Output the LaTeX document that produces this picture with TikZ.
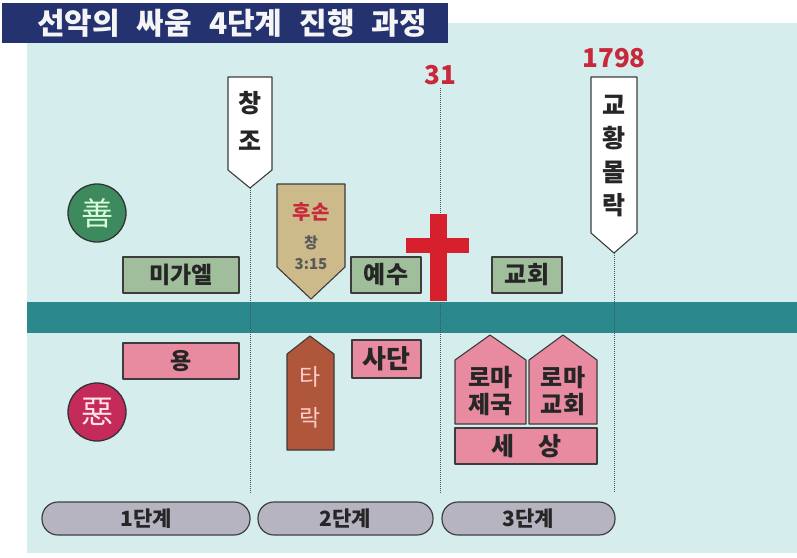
\documentclass[tikz,border=0pt]{standalone}
\usepackage{fontspec}
\newfontfamily\kr{Noto Sans CJK KR}
\definecolor{panel}{RGB}{214,237,237}
\definecolor{band}{RGB}{43,137,140}
\definecolor{titlebg}{RGB}{36,50,112}
\definecolor{gbox}{RGB}{160,190,155}
\definecolor{pbox}{RGB}{232,138,160}
\definecolor{brown}{RGB}{176,86,58}
\definecolor{tan}{RGB}{205,186,138}
\definecolor{goodc}{RGB}{60,138,94}
\definecolor{evilc}{RGB}{196,42,90}
\definecolor{pill}{RGB}{182,180,192}
\definecolor{redt}{RGB}{200,40,58}
\definecolor{crossred}{RGB}{214,32,46}
\definecolor{edge}{RGB}{60,60,60}
\definecolor{vl}{RGB}{70,80,100}
\tikzset{
  fs/.style={font=\kr\fontsize{#1}{#1}\selectfont},
  fsb/.style={font=\kr\bfseries\fontsize{#1}{#1}\selectfont},
  shapeedge/.style={draw=edge, line width=1.1pt, line join=round},
  vline/.style={draw=vl, line width=1pt, densely dotted},
  txt/.style={text=black!85, inner sep=0pt},
}
\begin{document}
\begin{tikzpicture}[x=1pt,y=-1pt]
\useasboundingbox (0,0) rectangle (797,557);
\fill[white] (0,0) rectangle (797,557);
\fill[panel] (27,23) rectangle (797,553);
\fill[band] (27,302) rectangle (797,333);

% title
\fill[titlebg] (2,3) rectangle (448,43);
\node[fsb=30, text=white!92!gray, inner sep=0pt] (title) at (232,23) {선악의\hspace{17pt}싸움\hspace{17pt}4단계\hspace{17pt}진행\hspace{17pt}과정};

% timeline markers
\coordinate (c1top) at (250,188);
\coordinate (c1bot) at (250,493);
\coordinate (c2top) at (440,88);
\coordinate (c2bot) at (440,493);
\coordinate (c3top) at (614,253);
\coordinate (c3bot) at (614,493);
\draw[vline] (c1top) -- (c1bot);
\draw[vline] (c2top) -- (c2bot);
\draw[vline] (c3top) -- (c3bot);

\node[fsb=26, text=redt, inner sep=0pt] (y31) at (440,75) {31};
\node[fsb=26, text=redt, inner sep=0pt] (y1798) at (614,58) {1798};

% creation pennant
\filldraw[fill=white, shapeedge] (228,77) -- (272,77) -- (272,170) -- (c1top) -- (228,170) -- cycle;
\node[fsb=25, txt] (chang) at (250,103) {창};
\node[fsb=25, txt] (jo) at (250,141) {조};

% papacy fall pennant
\filldraw[fill=white, shapeedge] (591,77) -- (637,77) -- (637,233) -- (c3top) -- (591,233) -- cycle;
\node[fsb=25, txt] (gyo) at (614,105) {교};
\node[fsb=25, txt] (hwang) at (614,138) {황};
\node[fsb=25, txt] (mol) at (614,172) {몰};
\node[fsb=25, txt] (rak) at (614,205) {락};

% offspring pennant
\filldraw[fill=tan, shapeedge] (277,184) -- (345,184) -- (345,267) -- (311,299) -- (277,267) -- cycle;
\node[fsb=20, text=redt, inner sep=0pt] (huson) at (311,212) {후손};
\node[fsb=15, text=black!65, inner sep=0pt] (gen) at (311,243) {창};
\node[fsb=15, text=black!65, inner sep=0pt] (genv) at (311,264) {3:15};

% cross
\fill[crossred] (430,214) rectangle (447,301);
\fill[crossred] (406,238) rectangle (469,253);

% good side
\filldraw[fill=goodc, draw=black!80, line width=1.3pt] (97,213) circle (29);
\node[fs=32, text=green!15!white, inner sep=0pt] (good) at (97,213) {善};
\filldraw[fill=gbox, shapeedge] (123,257) rectangle (239,293);
\node[fsb=23, txt] (michael) at (181,275) {미가엘};
\filldraw[fill=gbox, shapeedge] (351,257) rectangle (421,293);
\node[fsb=24, txt] (jesus) at (386,275) {예수};
\filldraw[fill=gbox, shapeedge] (492,257) rectangle (562,293);
\node[fsb=24, txt] (church) at (527,275) {교회};

% evil side
\filldraw[fill=evilc, draw=black!80, line width=1.3pt] (97,412) circle (29);
\node[fs=32, text=pink!40!white, inner sep=0pt] (evil) at (97,412) {惡};
\filldraw[fill=pbox, shapeedge] (123,343) rectangle (239,379);
\node[fsb=23, txt] (dragon) at (181,361) {용};
\filldraw[fill=pbox, shapeedge] (352,340) rectangle (421,378);
\node[fsb=26, txt] (satan) at (386.5,359) {사단};

% fall arrow
\filldraw[fill=brown, shapeedge] (310,336) -- (334,354) -- (334,450) -- (287,450) -- (287,354) -- cycle;
\node[fs=23, text=red!20!white, inner sep=0pt] (ta) at (310.5,377) {타};
\node[fs=23, text=red!20!white, inner sep=0pt] (rak2) at (310.5,418) {락};

% rome houses
\filldraw[fill=pbox, shapeedge] (455,360) -- (490,335) -- (526,360) -- (526,424) -- (455,424) -- cycle;
\node[fsb=24, txt] (roma1) at (490.5,378) {로마};
\node[fsb=24, txt] (empire) at (490.5,405) {제국};
\filldraw[fill=pbox, shapeedge] (529,360) -- (563,335) -- (597,360) -- (597,424) -- (529,424) -- cycle;
\node[fsb=24, txt] (roma2) at (563,378) {로마};
\node[fsb=24, txt] (rchurch) at (563,405) {교회};
\filldraw[fill=pbox, shapeedge] (455,428) rectangle (597,464);
\node[fsb=25, txt] (se) at (503,446) {세};
\node[fsb=25, txt] (sang) at (550,446) {상};

% stage pills
\tikzset{pillbox/.style={fill=pill, draw=black!75, line width=1.2pt, rounded corners=16pt}}
\filldraw[pillbox] (42,502) rectangle (250,535);
\filldraw[pillbox] (258,502) rectangle (433,535);
\filldraw[pillbox] (442,502) rectangle (615,535);
\node[fsb=21, txt] (s1) at (146,518.5) {1단계};
\node[fsb=21, txt] (s2) at (345.5,518.5) {2단계};
\node[fsb=21, txt] (s3) at (528.5,518.5) {3단계};
\end{tikzpicture}
\end{document}
